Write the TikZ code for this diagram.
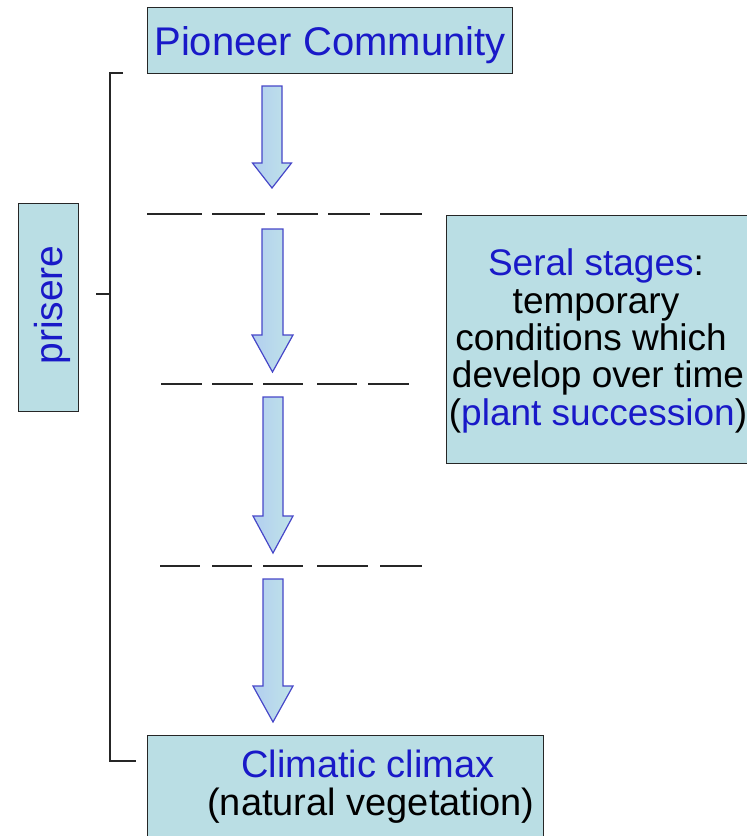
\documentclass[tikz,border=0pt]{standalone}
\usepackage{fontspec}
\setmainfont{Liberation Sans}
\definecolor{boxfill}{RGB}{186,222,228}
\definecolor{txtblue}{RGB}{25,25,200}
\definecolor{arrowline}{RGB}{70,70,200}
\definecolor{arrowA}{RGB}{178,206,240}
\definecolor{arrowB}{RGB}{192,228,232}
\newcommand\blkarrow[6]{%
  \draw[arrowsty] (#1-#5,#2) -- (#1+#5,#2) -- (#1+#5,#3) -- (#1+#6,#3) -- (#1,#4) -- (#1-#6,#3) -- (#1-#5,#3) -- cycle;}
\begin{document}
\begin{tikzpicture}[x=1pt,y=-1pt,
  box/.style={draw=black!85, line width=1.4pt, fill=boxfill, inner sep=0pt, anchor=north west},
  bigtxt/.style={font=\fontsize{40}{40}\selectfont, inner sep=0pt, anchor=base},
  midtxt/.style={font=\fontsize{37}{37.5}\selectfont, inner sep=0pt, anchor=base},
  arrowsty/.style={draw=arrowline, line width=1.2pt, left color=arrowA, right color=arrowB, line join=miter},
  dashsty/.style={draw=black!85, line width=1.4pt},
  brack/.style={draw=black!85, line width=1.6pt}]
\useasboundingbox (0,0) rectangle (747,836);

% boxes
\node[box, minimum width=365pt, minimum height=66pt] (pioneer) at (147,7) {};
\node[bigtxt, text=txtblue] (pioneertxt) at (330,55) {Pioneer Community};

\node[box, minimum width=60pt, minimum height=208pt] (prisere) at (18,203) {};
\node[bigtxt, font=\fontsize{39}{40}\selectfont, text=txtblue, rotate=90] (prisertxt) at (62,305) {prisere};

\node[box, minimum width=320pt, minimum height=248pt] (seral) at (446,215) {};
\node[midtxt] (s1) at (596,275) {\textcolor{txtblue}{Seral stages}:};
\node[midtxt] (s2) at (596,313) {temporary};
\node[midtxt] (s3) at (591,350) {conditions which};
\node[midtxt] (s4) at (598,387) {develop over time};
\node[midtxt] (s5) at (598,425) {(\textcolor{txtblue}{plant succession})};

\node[box, minimum width=396pt, minimum height=120pt] (climax) at (147,735) {};
\node[midtxt, font=\fontsize{38}{40}\selectfont, text=txtblue] (c1) at (368,777) {Climatic climax};
\node[midtxt, font=\fontsize{38}{40}\selectfont] (c2) at (371,815) {(natural vegetation)};

% bracket
\coordinate (bt) at (110,73);
\coordinate (bb) at (110,761);
\draw[brack] (123,73) -- (bt) -- (bb) -- (136,761);
\draw[brack] (96,294) -- (110,294);

% arrows
\blkarrow{272}{86}{163}{188}{10}{19.5}
\blkarrow{272.5}{229}{335}{372}{10.5}{20.5}
\blkarrow{273}{397}{516}{553}{10}{20}
\blkarrow{273}{579}{686}{722}{10}{20}

% dashed stage lines
\foreach \a/\b in {147/202,212/265,277/318,328/370,380/422}
  \draw[dashsty] (\a,214) -- (\b,214);
\foreach \a/\b in {161/202,212/253,263/303,317/357,368/409}
  \draw[dashsty] (\a,384) -- (\b,384);
\foreach \a/\b in {160/200,212/252,263/303,317/368,380/422}
  \draw[dashsty] (\a,566) -- (\b,566);
\end{tikzpicture}
\end{document}
